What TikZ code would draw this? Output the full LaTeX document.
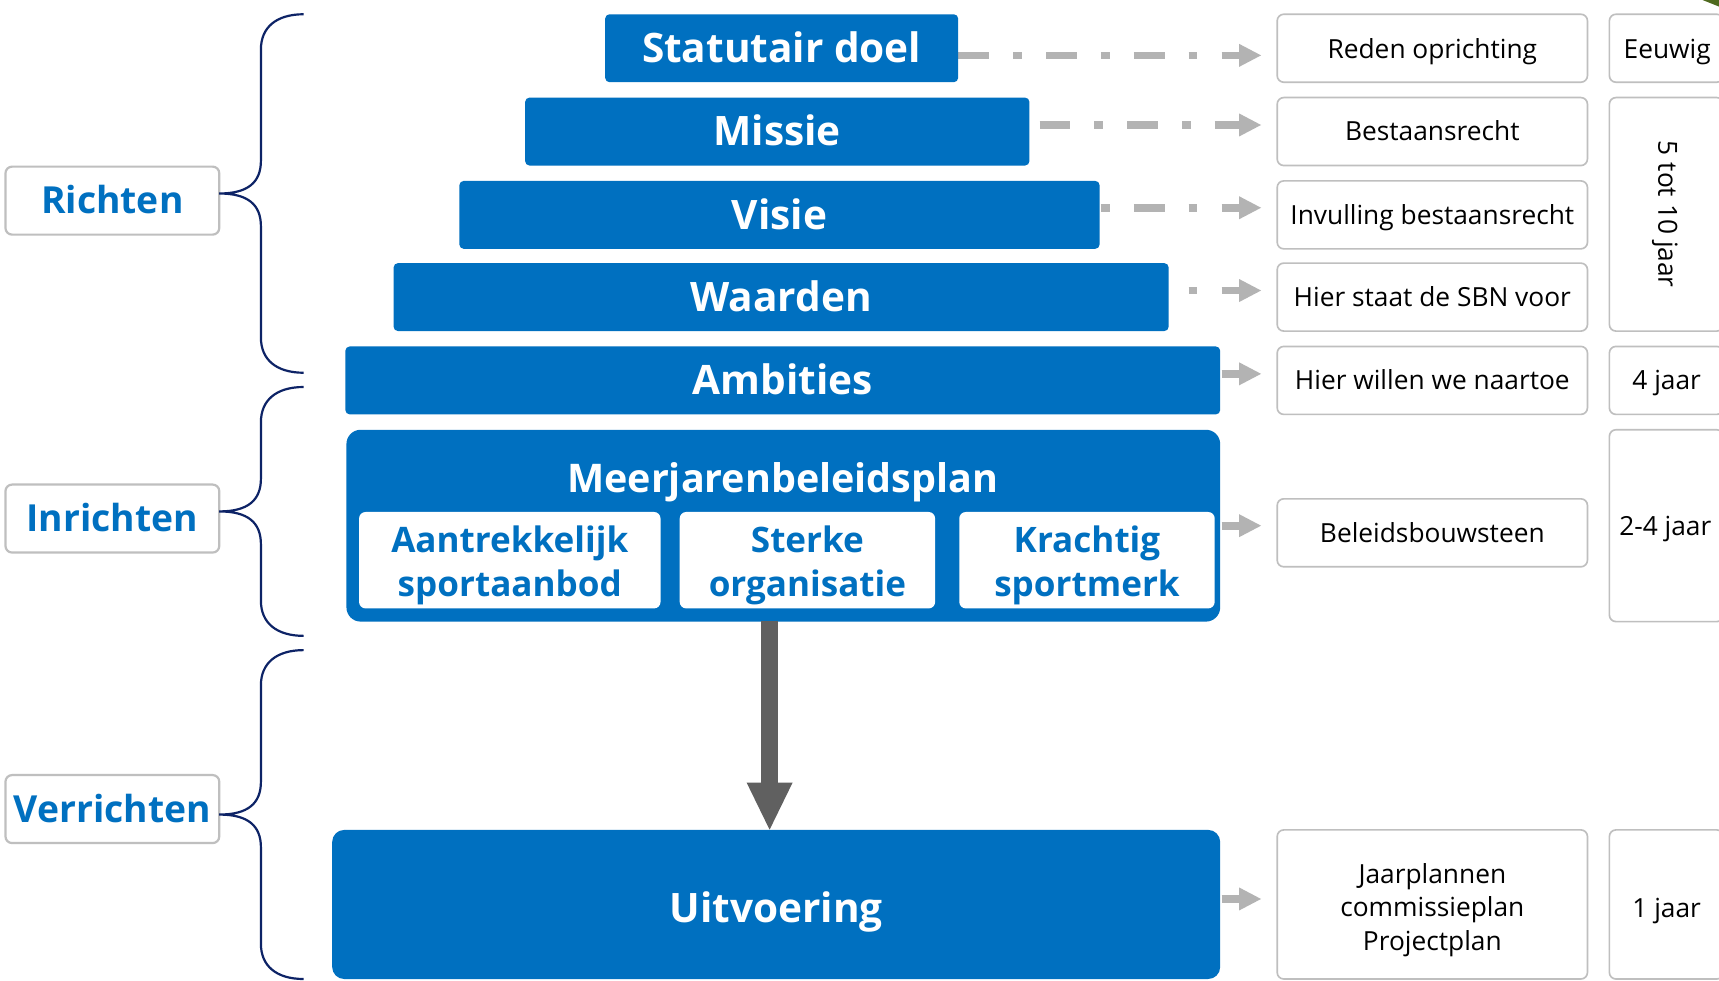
\documentclass[tikz,border=0pt]{standalone}
\usepackage{fontspec}
\setmainfont{Open Sans}
\usetikzlibrary{arrows.meta,backgrounds,calc}
\definecolor{sbnblue}{HTML}{0070C0}
\definecolor{bracenavy}{HTML}{0D2366}
\definecolor{arrgrey}{HTML}{B3B3B3}
\definecolor{boxgrey}{HTML}{BFBFBF}
\definecolor{darkgrey}{HTML}{606060}
\definecolor{leafgreen}{HTML}{4F6A1F}
\newcommand\toplift[1]{\rule{0pt}{#1}}
\tikzset{
  txtbig/.style={text height=33.3pt, text depth=7pt},
  txttitle/.style={text height=32.4pt, text depth=6.8pt},
  txtlabel/.style={text height=30.6pt, text depth=6.5pt},
  txtsmall/.style={text height=21.6pt, text depth=4.6pt},
  txtsmalllow/.style={text height=23.6pt, text depth=4.6pt},
  bluebox/.style={fill=sbnblue, text=white, rounded corners=4pt, inner sep=0pt,
    minimum height=62pt, font=\fontsize{37}{44}\selectfont\bfseries, txtbig},
  innerbox/.style={fill=white, text=sbnblue, rounded corners=6pt, inner sep=0pt,
    minimum height=88pt, align=center, font=\fontsize{32}{40}\selectfont\bfseries},
  infobox/.style={draw=boxgrey, line width=1.5pt, fill=white, rounded corners=6pt,
    minimum width=283pt, minimum height=62pt, inner sep=0pt, align=center,
    font=\fontsize{24}{30.5}\selectfont},
  timebox/.style={infobox, minimum width=104pt},
  labelbox/.style={draw=boxgrey, line width=2pt, fill=white, rounded corners=6pt,
    minimum width=195pt, minimum height=62pt, inner sep=0pt, text=sbnblue,
    font=\fontsize{34}{40}\selectfont\bfseries, txtlabel},
  dasharrow/.style={draw=arrgrey, line width=7pt,
    dash pattern=on 28pt off 22pt on 8pt off 22pt,
    -{Triangle[length=20pt,width=21pt,line width=0pt]}, shorten >=14pt},
  bracepath/.style={draw=bracenavy, line width=2pt},
  bigarrow/.style={draw=darkgrey, line width=15pt,
    -{Triangle[length=43pt,width=42pt,line width=0pt]}},
}
\newcommand\sbnbrace[3]{%
  \draw[bracepath] (277,#1) .. controls (252,#1) and (238,#1+12) .. (238,#1+32)
    -- (238,#2-30) .. controls (238,#2-10) and (226,#2) .. (200,#2)
    .. controls (226,#2) and (238,#2+10) .. (238,#2+30)
    -- (238,#3-32) .. controls (238,#3-12) and (252,#3) .. (277,#3);}
\begin{document}
\begin{tikzpicture}[x=1pt,y=-1pt]
\useasboundingbox (0,0) rectangle (1568,894);
\clip (0,0) rectangle (1568,894);

% pyramid
\node[bluebox, minimum width=322pt] (stat) at (713,44) {Statutair doel};
\node[bluebox, minimum width=460pt] (missie) at (709,120) {Missie};
\node[bluebox, minimum width=584pt] (visie) at (711,196) {Visie};
\node[bluebox, minimum width=707pt] (waarden) at (712.5,271) {Waarden};
\node[bluebox, minimum width=798pt] (ambities) at (714,347) {Ambities};
\node[fill=sbnblue, rounded corners=13pt, minimum width=797pt, minimum height=175pt, inner sep=0pt] (mjp) at (714.5,479.5) {};
\node[text=white, font=\fontsize{36}{44}\selectfont\bfseries, inner sep=0pt, txttitle] (mjptitle) at (714,436) {Meerjarenbeleidsplan};
\node[innerbox, minimum width=275pt] (aantr) at (465,511) {\toplift{33pt}Aantrekkelijk\\sportaanbod};
\node[innerbox, minimum width=233pt] (sterke) at (736.5,511) {\toplift{33pt}Sterke\\organisatie};
\node[innerbox, minimum width=233pt] (kracht) at (991.5,511) {\toplift{33pt}Krachtig\\sportmerk};
\node[bluebox, rounded corners=11pt, minimum width=810pt, minimum height=136pt,
  text height=39.3pt, text depth=7pt] (uitv) at (708,825) {Uitvoering};

% info boxes
\node[infobox, txtsmalllow] (rstat) at (1306.5,44) {Reden oprichting};
\node[infobox, txtsmall] (rmissie) at (1306.5,120) {Bestaansrecht};
\node[infobox, txtsmall] (rvisie) at (1306.5,196) {Invulling bestaansrecht};
\node[infobox, txtsmall] (rwaarden) at (1306.5,271) {Hier staat de SBN voor};
\node[infobox, txtsmall] (rambities) at (1306.5,347) {Hier willen we naartoe};
\node[infobox, txtsmall] (rbel) at (1306.5,486) {Beleidsbouwsteen};
\node[infobox, minimum height=136pt] (rjaar) at (1306.5,825) {\toplift{28pt}Jaarplannen\\commissieplan\\Projectplan};

% time boxes
\node[timebox, txtsmalllow] (teeuwig) at (1520,44) {\makebox[102pt][l]{\hspace{12pt}Eeuwig}};
\node[timebox, minimum height=213pt] (tvijf) at (1520,195.5) {\makebox[102pt][l]{\hspace{38pt}\rotatebox{-90}{5 tot 10 jaar}}};
\node[timebox, txtsmall] (tvier) at (1520,347) {\makebox[102pt][l]{\hspace{20pt}4 jaar}};
\node[timebox, minimum height=175pt] (ttwee) at (1520,479.5) {};
\node[font=\fontsize{24}{30}\selectfont, inner sep=0pt, txtsmall] (ttweetxt) at (1519,480) {2-4 jaar};
\node[timebox, minimum height=136pt, text height=27.6pt, text depth=4.6pt] (teen) at (1520,825) {\makebox[102pt][l]{\hspace{20pt}1 jaar}};

% labels
\node[labelbox] (richten) at (102.5,183) {Richten};
\node[labelbox] (inrichten) at (102.5,473) {Inrichten};
\node[labelbox] (verrichten) at (102.5,738) {Verrichten};

% braces
\sbnbrace{13}{176.5}{340}
\sbnbrace{353}{466.5}{580}
\sbnbrace{593}{743}{893}

% connectors (behind the boxes)
\begin{pgfonlayer}{background}
\fill[white] (0,0) rectangle (1568,894);
\draw[dasharrow] ($(stat.east |- rstat.west)+(0,6.5)$) -- ($(rstat.west)+(0,6.5)$);
\draw[dasharrow] ($(stat.east |- rmissie.west)+(-6,-6)$) -- ($(rmissie.west)+(0,-6)$);
\draw[dasharrow] ($(stat.east |- rvisie.west)+(0,-6.5)$) -- ($(rvisie.west)+(0,-6.5)$);
\draw[dasharrow] ($(stat.east |- rwaarden.west)+(0,-6)$) -- ($(rwaarden.west)+(0,-6)$);
\draw[dasharrow] ($(stat.east |- rambities.west)+(0,-6)$) -- ($(rambities.west)+(0,-6)$);
\draw[dasharrow] (stat.east |- mjp.center) -- (rbel.west |- mjp.center);
\draw[dasharrow] ($(stat.east |- uitv.center)+(0,-5)$) -- ($(rjaar.west)+(0,-5)$);
\end{pgfonlayer}
\draw[bigarrow] ($(mjp.south)+(-12.5,-1)$) -- ($(uitv.north)+(-6,0)$);

% corner leaf fragment
\fill[leafgreen] (1553,0) -- (1568,0) -- (1568,6) -- cycle;
\end{tikzpicture}
\end{document}
